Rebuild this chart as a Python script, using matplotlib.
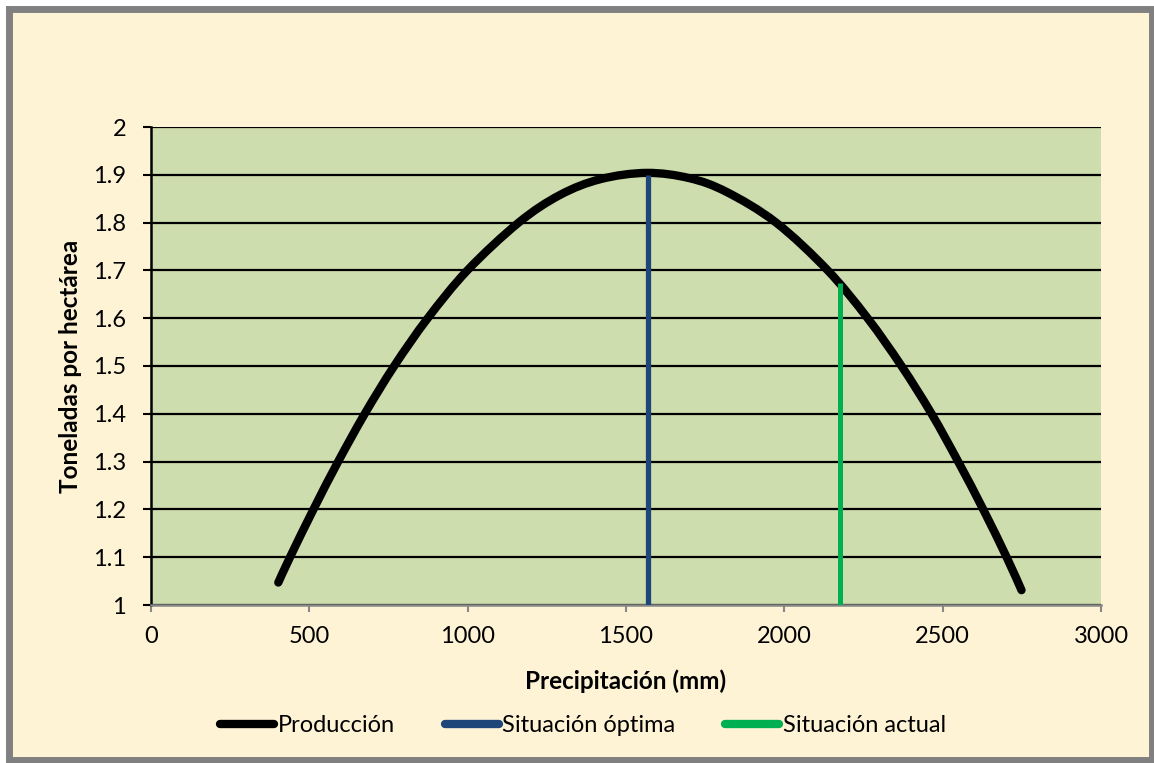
import matplotlib
matplotlib.use("Agg")
import matplotlib.pyplot as plt
from matplotlib.patches import Rectangle, PathPatch
from matplotlib.path import Path
from matplotlib.lines import Line2D

# datos
precip = [402, 439, 513, 591, 675, 768, 874, 999, 1161, 1292, 1420, 1565,
          1700, 1818, 1974, 2137, 2263, 2370, 2465, 2549, 2628, 2702, 2749]
produccion = [1.047, 1.1, 1.2, 1.3, 1.4, 1.5, 1.6, 1.7, 1.8, 1.858, 1.891, 1.904,
              1.893, 1.864, 1.8, 1.7, 1.6, 1.5, 1.4, 1.3, 1.2, 1.1, 1.031]
optima_x = [1568, 1568]
optima_y = [1.0, 1.9]
actual_x = [2177, 2177]
actual_y = [1.0, 1.673]
yticks = [1, 1.1, 1.2, 1.3, 1.4, 1.5, 1.6, 1.7, 1.8, 1.9, 2]
xticks = [0, 500, 1000, 1500, 2000, 2500, 3000]

plt.rcParams['font.family'] = ['Lato', 'DejaVu Sans']


def linea_suavizada(xs, ys):
    # linea suavizada como en Excel (curvas de Bezier entre los puntos)
    pts = list(zip(xs, ys))
    verts = [pts[0]]
    codes = [Path.MOVETO]
    n = len(pts)
    for i in range(n - 1):
        p0 = pts[max(i - 1, 0)]
        p1 = pts[i]
        p2 = pts[i + 1]
        p3 = pts[min(i + 2, n - 1)]
        c1 = (p1[0] + (p2[0] - p0[0]) / 6, p1[1] + (p2[1] - p0[1]) / 6)
        c2 = (p2[0] - (p3[0] - p1[0]) / 6, p2[1] - (p3[1] - p1[1]) / 6)
        verts += [c1, c2, p2]
        codes += [Path.CURVE4] * 3
    return Path(verts, codes)


W, H = 1154, 763
fig = plt.figure(figsize=(W / 100, H / 100), dpi=100, facecolor="white")

# fondo y marco del grafico
fig.patches.append(Rectangle((8.5 / W, 3 / H), (1152 - 8.5) / W, (754.5 - 3) / H,
                             transform=fig.transFigure, facecolor="#FFF3D6",
                             edgecolor="#808080", linewidth=5, zorder=-10))

ax = fig.add_axes([151 / W, 1 - 605 / H, (1101 - 151) / W, (605 - 127) / H])
ax.set_facecolor("#CEDDAD")

curva = PathPatch(linea_suavizada(precip, produccion), facecolor="none",
                  edgecolor="black", linewidth=6, capstyle="round",
                  joinstyle="round", zorder=3)
ax.add_patch(curva)
ax.plot(optima_x, optima_y, color="#1F4678", linewidth=3.8, solid_capstyle="butt",
        zorder=4)
ax.plot(actual_x, actual_y, color="#00B050", linewidth=3.6, solid_capstyle="butt",
        zorder=4)

ax.set_xlim(0, 3000)
ax.set_ylim(1, 2)
ax.set_xticks(xticks)
ax.set_yticks(yticks)
ax.set_yticklabels([f"{v:g}" for v in yticks])
ax.grid(axis="y", color="black", linewidth=1.6)
ax.set_axisbelow(True)

for s in ["top", "right"]:
    ax.spines[s].set_visible(False)
ax.spines["left"].set_color("black")
ax.spines["left"].set_linewidth(1.8)
ax.spines["bottom"].set_color("#878787")
ax.spines["bottom"].set_linewidth(1.8)

ax.tick_params(axis="y", length=6, width=1.5, color="black", labelsize=17, pad=12)
ax.tick_params(axis="x", length=5, width=1.5, color="#878787", labelsize=17, pad=10)

ax.set_xlabel("Precipitación (mm)", fontsize=17.5, fontweight="bold", labelpad=16)
ax.set_ylabel("Toneladas por hectárea", fontsize=17.5, fontweight="bold", labelpad=8)

handles = [Line2D([], [], color="black", linewidth=6, solid_capstyle="round"),
           Line2D([], [], color="#1F4678", linewidth=6, solid_capstyle="round"),
           Line2D([], [], color="#00B050", linewidth=6, solid_capstyle="round")]
labels = ["Producción", "Situación óptima", "Situación actual"]
ax.legend(handles, labels, loc="center", bbox_to_anchor=(583 / W, 1 - 726 / H),
          bbox_transform=fig.transFigure, ncol=3, frameon=False,
          fontsize=17, handlelength=2.3, handletextpad=0.15, columnspacing=2.1)

fig.savefig("out.png", dpi=100, facecolor="white")
